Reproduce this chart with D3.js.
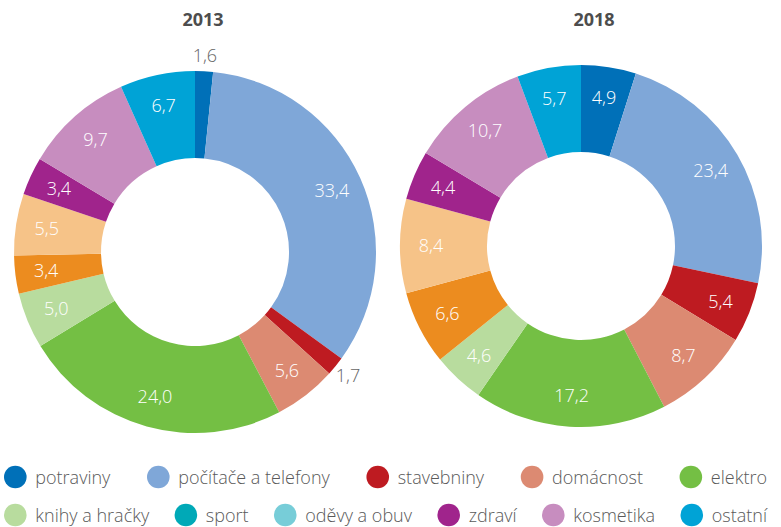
<!DOCTYPE html>
<html><head><meta charset="utf-8">
<script src="https://cdn.jsdelivr.net/npm/d3@7/dist/d3.min.js"></script>
<style>body{margin:0;background:#fff;}svg{display:block;font-family:"Open Sans",sans-serif;}</style>
</head><body>
<svg id="chart" width="781" height="527"></svg>
<script>
const categories = ["potraviny","počítače a telefony","stavebniny","domácnost","elektro","knihy a hračky","sport","oděvy a obuv","zdraví","kosmetika","ostatní"];
const years = ["2013","2018"];
const values2013 = [1.6,33.4,1.7,5.6,24.0,5.0,3.4,5.5,3.4,9.7,6.7];
const values2018 = [4.9,23.4,5.4,8.7,17.2,4.6,6.6,8.4,4.4,10.7,5.7];
const sliceColors = ["#0070b8","#7fa7d8","#be1b21","#dc8a72","#74bf44","#b8dc9e","#ec8c1f","#f6c388","#a0248c","#c78dbf","#00a3d6"];
const legendColors = ["#0070b8","#7fa7d8","#be1b21","#dc8a72","#74bf44","#b8dc9e","#00a9b7","#77cdd8","#a0248c","#c78dbf","#00a3d6"];

const svg = d3.select("#chart");
const fmt = v => d3.format(".1f")(v).replace(".", ",");
const pie = d3.pie().sort(null).value(d => d.v);
const innerR = 94, outerR = 181;
const arc = d3.arc().innerRadius(innerR).outerRadius(outerR);
const labelArc = d3.arc().innerRadius(150).outerRadius(150);
const outArc = d3.arc().innerRadius(197).outerRadius(197);

const donuts = [
  {year: years[0], values: values2013, cx: 195, cy: 252, tx: 203, small: 2},
  {year: years[1], values: values2018, cx: 581, cy: 246, tx: 594, small: 2}
];

donuts.forEach(d => {
  const g = svg.append("g").attr("transform", `translate(${d.cx},${d.cy})`);
  const data = pie(d.values.map((v,i) => ({v, i})));
  g.selectAll("path").data(data).join("path")
    .attr("d", arc).attr("fill", p => sliceColors[p.data.i]);
  g.selectAll("text.lbl").data(data).join("text")
    .attr("class","lbl")
    .attr("transform", p => {
      const inside = p.data.v >= d.small;
      const c = (inside ? labelArc : outArc).centroid(p);
      return `translate(${c[0]},${c[1]})`;
    })
    .attr("text-anchor","middle").attr("dy","0.35em")
    .attr("font-size", 18).attr("font-weight", 300)
    .attr("fill", p => p.data.v >= d.small ? "#fff" : "#666")
    .text(p => fmt(p.data.v));
  svg.append("text").attr("x", d.tx).attr("y", 26).attr("text-anchor","middle")
    .attr("font-size", 18).attr("font-weight", "bold").attr("fill", "#4d4d4d").text(d.year);
});

// legend, justified rows
const rows = [[0,1,2,3,4],[5,6,7,8,9,10]];
const rowY = [477, 515];
const left = 4, right = 767, cr = 11.3, textOff = 20;
rows.forEach((row, ri) => {
  const lg = svg.append("g");
  const items = row.map(i => {
    const t = lg.append("text").attr("font-size", 18).attr("font-weight", 300).attr("fill", "#595959")
      .attr("y", rowY[ri] + 6.5).text(categories[i]);
    const w = t.node().getComputedTextLength();
    return {i, t, w: cr + textOff + w};
  });
  const total = d3.sum(items, it => it.w);
  const gap = (right - left - total) / (items.length - 1);
  let x = left;
  items.forEach(it => {
    lg.append("circle").attr("cx", x + cr).attr("cy", rowY[ri]).attr("r", cr)
      .attr("fill", legendColors[it.i]);
    it.t.attr("x", x + cr + textOff);
    x += it.w + gap;
  });
});
</script>
</body></html>
